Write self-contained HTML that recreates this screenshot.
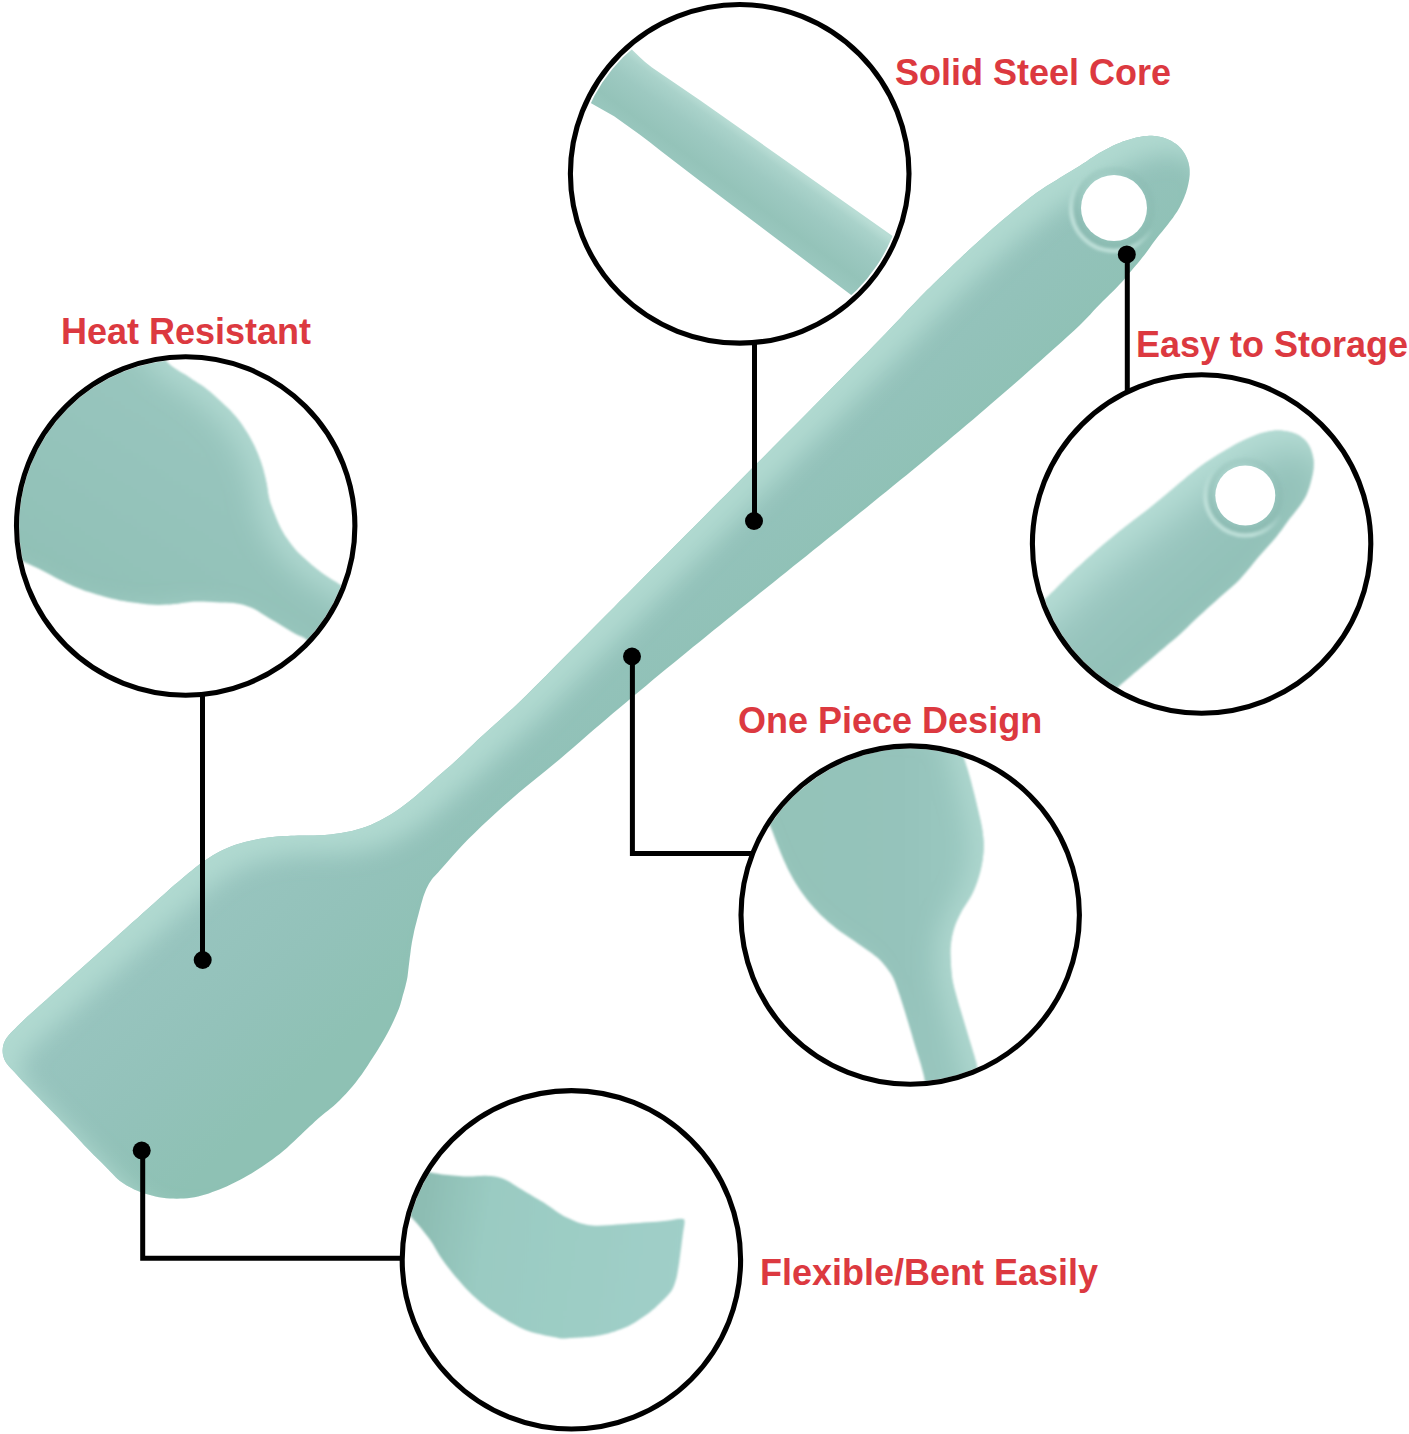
<!DOCTYPE html>
<html><head><meta charset="utf-8"><style>
html,body{margin:0;padding:0;background:#fff;}
body{width:1409px;height:1434px;position:relative;overflow:hidden;font-family:"Liberation Sans",sans-serif;}
svg{position:absolute;left:0;top:0;}
.t{position:absolute;font-weight:bold;font-size:36px;color:#dc3940;white-space:nowrap;line-height:1;}
</style></head><body>
<svg width="1409" height="1434" viewBox="0 0 1409 1434">
<defs>
<linearGradient id="gMain" gradientUnits="userSpaceOnUse" x1="667.6" y1="745.7" x2="512.1" y2="576.2">
<stop offset="0" stop-color="#8ec1b4"/><stop offset="0.43" stop-color="#93c2ba"/><stop offset="1" stop-color="#99c5c0"/>
</linearGradient>
<linearGradient id="gSteel" gradientUnits="userSpaceOnUse" x1="740" y1="128.4" x2="700.5" y2="182.7">
<stop offset="0" stop-color="#b9ddd5"/><stop offset="0.13" stop-color="#a9d2ca"/><stop offset="0.4" stop-color="#9dc9c1"/><stop offset="0.78" stop-color="#94c3b9"/><stop offset="1" stop-color="#99c7be"/>
</linearGradient>
<filter id="rim" x="-5%" y="-5%" width="110%" height="110%" color-interpolation-filters="sRGB">
<feGaussianBlur in="SourceAlpha" stdDeviation="12" result="b"/>
<feOffset in="b" dx="17.5" dy="17.5" result="o"/>
<feComposite in="SourceAlpha" in2="o" operator="out" result="edge"/>
<feFlood flood-color="#b0d9d0" flood-opacity="1"/>
<feComposite in2="edge" operator="in" result="light"/>
<feMerge><feMergeNode in="SourceGraphic"/><feMergeNode in="light"/></feMerge>
</filter>
<filter id="rimR" x="-10%" y="-10%" width="120%" height="120%" color-interpolation-filters="sRGB">
<feGaussianBlur in="SourceAlpha" stdDeviation="14" result="b"/>
<feOffset in="b" dx="-13" dy="9" result="o"/>
<feComposite in="SourceAlpha" in2="o" operator="out" result="edge"/>
<feFlood flood-color="#b2dad2" flood-opacity="0.9"/>
<feComposite in2="edge" operator="in" result="light"/>
<feMerge result="m"><feMergeNode in="SourceGraphic"/><feMergeNode in="light"/></feMerge>
<feGaussianBlur in="m" stdDeviation="1.1"/>
</filter>
<filter id="rimE" x="-10%" y="-10%" width="120%" height="120%" color-interpolation-filters="sRGB">
<feGaussianBlur in="SourceAlpha" stdDeviation="12" result="b"/>
<feOffset in="b" dx="-14" dy="2" result="o"/>
<feComposite in="SourceAlpha" in2="o" operator="out" result="edge"/>
<feFlood flood-color="#b0d8d0" flood-opacity="0.85"/>
<feComposite in2="edge" operator="in" result="light"/>
<feMerge result="m"><feMergeNode in="SourceGraphic"/><feMergeNode in="light"/></feMerge>
<feGaussianBlur in="m" stdDeviation="1.1"/>
</filter>
<filter id="rimS" x="-10%" y="-10%" width="120%" height="120%" color-interpolation-filters="sRGB">
<feGaussianBlur in="SourceAlpha" stdDeviation="18" result="b"/>
<feOffset in="b" dx="13" dy="15" result="o"/>
<feComposite in="SourceAlpha" in2="o" operator="out" result="edge"/>
<feFlood flood-color="#b6ddd5" flood-opacity="1"/>
<feComposite in2="edge" operator="in" result="light"/>
<feMerge result="m"><feMergeNode in="SourceGraphic"/><feMergeNode in="light"/></feMerge>
<feGaussianBlur in="m" stdDeviation="1.1"/>
</filter>
<filter id="soft2" x="-5%" y="-5%" width="110%" height="110%"><feGaussianBlur stdDeviation="1.1"/></filter>
<filter id="soft" x="-20%" y="-20%" width="140%" height="140%"><feGaussianBlur stdDeviation="1.6"/></filter>
<linearGradient id="gStore" gradientUnits="userSpaceOnUse" x1="1210" y1="640" x2="1120" y2="540">
<stop offset="0" stop-color="#8fbfb5"/><stop offset="0.5" stop-color="#95c3bb"/><stop offset="1" stop-color="#9ec9c3"/>
</linearGradient>
<linearGradient id="gHeat" gradientUnits="userSpaceOnUse" x1="120" y1="620" x2="260" y2="400">
<stop offset="0" stop-color="#91c1b7"/><stop offset="0.6" stop-color="#96c4bc"/><stop offset="1" stop-color="#9ac7bf"/>
</linearGradient>
<linearGradient id="gOne" gradientUnits="userSpaceOnUse" x1="780" y1="900" x2="990" y2="900">
<stop offset="0" stop-color="#94c3b9"/><stop offset="0.55" stop-color="#95c3bb"/><stop offset="1" stop-color="#9ccac2"/>
</linearGradient>
<linearGradient id="gFlex" gradientUnits="userSpaceOnUse" x1="420" y1="1230" x2="680" y2="1270">
<stop offset="0" stop-color="#8dbdb3"/><stop offset="0.25" stop-color="#9acbc2"/><stop offset="1" stop-color="#a0cfc8"/>
</linearGradient>
<linearGradient id="gRingL" gradientUnits="objectBoundingBox" x1="0.95" y1="0.05" x2="0.3" y2="1">
<stop offset="0" stop-color="#c4e4dd" stop-opacity="0"/><stop offset="0.5" stop-color="#c4e4dd" stop-opacity="0"/><stop offset="0.85" stop-color="#c4e4dd" stop-opacity="0.9"/><stop offset="1" stop-color="#c4e4dd" stop-opacity="0.9"/>
</linearGradient>
<linearGradient id="gRingD" gradientUnits="objectBoundingBox" x1="0.85" y1="0.1" x2="0.15" y2="0.95">
<stop offset="0" stop-color="#7fb0a6" stop-opacity="0.15"/><stop offset="0.5" stop-color="#7fb0a6" stop-opacity="0.25"/><stop offset="1" stop-color="#7fb0a6" stop-opacity="0.35"/>
</linearGradient>
<clipPath id="cHeat"><circle cx="185.7" cy="526" r="166.5"/></clipPath>
<clipPath id="cStore"><circle cx="1201.6" cy="544" r="166.5"/></clipPath>
<clipPath id="cOne"><circle cx="910.2" cy="915.1" r="166.5"/></clipPath>
<clipPath id="cFlex"><circle cx="571.4" cy="1259.8" r="166.5"/></clipPath>
<clipPath id="cSteel"><circle cx="739.7" cy="173.85" r="165"/></clipPath>
</defs>
<path d="M1154.4,135.9 L1152.0,135.7 L1149.5,135.7 L1147.1,135.9 L1144.6,136.1 L1142.1,136.5 L1139.5,136.9 L1136.3,137.6 L1133.0,138.4 L1129.7,139.4 L1126.3,140.4 L1122.9,141.6 L1119.6,142.9 L1116.2,144.3 L1112.9,145.8 L1109.6,147.5 L1106.3,149.2 L1103.0,151.0 L1099.7,152.8 L1096.4,154.8 L1093.1,156.9 L1089.8,159.1 L1086.5,161.4 L1083.2,163.6 L1079.9,165.7 L1076.6,167.8 L1073.3,169.8 L1070.0,171.8 L1066.6,173.8 L1063.3,175.8 L1060.0,177.8 L1056.7,179.9 L1053.3,181.9 L1050.0,183.9 L1046.6,186.0 L1043.3,188.2 L1040.0,190.4 L1036.6,192.8 L1033.3,195.3 L1029.9,197.8 L1026.6,200.4 L1023.3,203.1 L1020.0,205.7 L1016.6,208.4 L1013.3,211.1 L1010.0,213.9 L1006.6,216.7 L1003.3,219.5 L1000.0,222.3 L996.6,225.2 L993.3,228.1 L990.0,231.0 L986.6,234.0 L983.3,236.9 L980.0,239.9 L976.7,242.9 L973.3,246.0 L970.0,249.1 L966.6,252.2 L963.3,255.3 L960.0,258.4 L956.7,261.6 L953.3,264.7 L950.0,267.9 L946.7,271.2 L943.3,274.4 L940.0,277.6 L936.7,280.8 L933.6,283.8 L930.4,286.9 L927.1,290.1 L923.7,293.6 L920.0,297.3 L914.1,303.4 L907.7,310.1 L900.9,317.4 L893.9,324.8 L886.8,332.2 L880.0,339.3 L873.4,346.1 L866.7,352.9 L860.0,359.6 L853.3,366.3 L846.7,373.1 L840.0,379.8 L833.3,386.5 L826.7,393.3 L820.0,400.0 L813.3,406.7 L806.7,413.5 L800.0,420.2 L793.3,426.9 L786.7,433.6 L780.0,440.3 L773.3,447.0 L766.7,453.7 L760.0,460.4 L753.3,467.1 L746.7,473.8 L740.0,480.5 L733.3,487.2 L726.7,493.9 L720.0,500.6 L713.3,507.3 L706.7,514.0 L700.0,520.7 L693.3,527.4 L686.7,534.1 L680.0,540.8 L673.3,547.5 L666.7,554.2 L660.0,560.9 L653.3,567.6 L646.7,574.3 L640.0,581.0 L633.3,587.7 L626.7,594.4 L620.0,601.1 L613.3,607.9 L606.7,614.6 L600.0,621.3 L593.3,628.0 L586.7,634.7 L580.0,641.4 L573.4,648.1 L566.7,654.8 L560.0,661.5 L553.3,668.3 L546.5,675.2 L539.7,682.0 L532.9,688.8 L526.2,695.5 L519.5,702.0 L513.2,707.9 L506.9,713.6 L500.7,719.2 L494.5,724.7 L488.4,730.2 L482.6,735.5 L477.6,740.1 L472.8,744.7 L468.0,749.2 L463.4,753.7 L458.8,758.0 L454.2,762.2 L450.1,765.9 L445.9,769.6 L441.9,773.1 L437.8,776.6 L433.9,780.0 L430.0,783.4 L426.6,786.4 L423.3,789.4 L420.0,792.3 L416.7,795.2 L413.4,798.0 L410.0,800.8 L406.4,803.6 L402.8,806.3 L399.1,808.9 L395.4,811.5 L391.6,814.0 L387.7,816.3 L383.7,818.6 L379.6,820.7 L375.4,822.8 L371.2,824.7 L366.8,826.5 L362.3,828.1 L357.2,829.6 L352.0,830.9 L346.6,832.0 L341.2,833.0 L335.7,833.8 L330.3,834.5 L324.9,835.0 L319.4,835.2 L314.0,835.4 L308.6,835.4 L303.3,835.5 L298.4,835.6 L294.6,835.7 L291.1,835.8 L287.6,835.9 L284.2,836.1 L280.8,836.3 L277.1,836.6 L272.7,837.1 L268.1,837.6 L263.4,838.3 L258.6,839.0 L254.0,839.9 L249.4,840.9 L245.0,842.0 L240.7,843.2 L236.3,844.6 L232.1,846.0 L227.9,847.7 L223.9,849.4 L220.2,851.2 L216.5,853.2 L213.0,855.3 L209.5,857.5 L206.1,859.8 L202.6,862.2 L199.0,864.8 L195.4,867.5 L191.9,870.4 L188.3,873.3 L184.8,876.3 L181.3,879.2 L177.8,882.2 L174.3,885.1 L170.9,888.1 L167.4,891.2 L163.8,894.4 L160.0,897.8 L154.8,902.4 L149.2,907.4 L143.5,912.6 L137.6,917.9 L131.7,923.1 L126.0,928.3 L120.4,933.3 L114.9,938.3 L109.4,943.2 L103.8,948.2 L98.2,953.2 L92.4,958.4 L85.9,964.2 L79.2,970.2 L72.4,976.3 L65.6,982.4 L58.9,988.4 L52.3,994.3 L46.1,999.9 L39.8,1005.5 L33.5,1011.2 L27.5,1016.6 L22.1,1021.7 L17.4,1026.3 L14.8,1028.9 L12.4,1031.3 L10.2,1033.6 L8.3,1035.8 L6.6,1037.9 L5.2,1040.2 L4.4,1042.0 L3.7,1043.7 L3.2,1045.5 L2.9,1047.2 L2.7,1049.0 L2.6,1050.7 L2.7,1052.4 L2.9,1054.2 L3.3,1056.0 L3.8,1057.7 L4.4,1059.4 L5.2,1061.1 L6.3,1062.9 L7.5,1064.6 L8.9,1066.2 L10.5,1067.9 L12.2,1069.7 L13.9,1071.6 L16.6,1074.6 L19.7,1078.0 L22.9,1081.4 L26.3,1085.0 L29.7,1088.6 L33.0,1092.0 L36.2,1095.3 L39.4,1098.6 L42.7,1101.9 L45.9,1105.2 L49.1,1108.5 L52.3,1111.7 L55.3,1114.8 L58.3,1117.8 L61.2,1120.9 L64.2,1123.9 L67.1,1126.9 L70.0,1130.0 L72.9,1133.0 L75.7,1136.1 L78.5,1139.1 L81.3,1142.1 L84.2,1145.2 L87.2,1148.3 L90.6,1151.8 L94.2,1155.4 L97.9,1159.1 L101.5,1162.6 L104.9,1166.1 L108.1,1169.2 L110.2,1171.4 L112.2,1173.5 L114.1,1175.5 L116.0,1177.4 L117.9,1179.2 L120.0,1180.9 L122.2,1182.5 L124.4,1184.0 L126.7,1185.5 L129.1,1186.8 L131.6,1188.1 L134.2,1189.4 L137.4,1190.8 L140.9,1192.2 L144.5,1193.4 L148.2,1194.6 L151.9,1195.6 L155.5,1196.5 L159.0,1197.2 L162.6,1197.7 L166.1,1198.2 L169.7,1198.5 L173.2,1198.6 L176.8,1198.7 L180.4,1198.6 L183.9,1198.5 L187.5,1198.2 L191.0,1197.7 L194.6,1197.2 L198.1,1196.5 L201.7,1195.6 L205.3,1194.6 L208.8,1193.4 L212.4,1192.1 L215.9,1190.8 L219.4,1189.4 L223.0,1187.9 L226.6,1186.4 L230.1,1184.8 L233.7,1183.1 L237.2,1181.3 L240.7,1179.5 L244.3,1177.5 L247.8,1175.5 L251.4,1173.4 L254.9,1171.2 L258.4,1169.0 L261.9,1166.7 L265.5,1164.3 L269.1,1161.8 L272.7,1159.3 L276.2,1156.6 L279.7,1153.9 L283.2,1151.1 L286.9,1148.0 L290.5,1144.6 L294.1,1141.2 L297.7,1137.7 L301.2,1134.4 L304.5,1131.2 L307.2,1128.7 L309.8,1126.3 L312.4,1123.9 L314.9,1121.6 L317.4,1119.3 L320.0,1117.0 L322.7,1114.8 L325.4,1112.6 L328.1,1110.5 L330.8,1108.3 L333.6,1106.0 L336.3,1103.5 L339.5,1100.4 L342.8,1097.1 L346.0,1093.7 L349.3,1090.1 L352.4,1086.4 L355.5,1082.7 L358.6,1078.6 L361.7,1074.4 L364.7,1070.1 L367.6,1065.7 L370.4,1061.3 L373.2,1057.0 L375.8,1053.0 L378.3,1049.0 L380.7,1045.0 L383.1,1041.0 L385.4,1036.9 L387.6,1032.9 L389.7,1028.9 L391.8,1024.7 L393.8,1020.6 L395.6,1016.5 L397.3,1012.6 L398.8,1008.9 L399.7,1006.4 L400.5,1004.0 L401.1,1001.7 L401.8,999.4 L402.4,997.1 L403.0,994.8 L403.7,992.4 L404.4,990.0 L405.1,987.6 L405.7,985.1 L406.3,982.6 L406.9,980.0 L407.5,976.8 L407.9,973.5 L408.3,970.0 L408.7,966.6 L409.1,963.2 L409.5,960.0 L409.8,957.4 L410.2,954.8 L410.5,952.2 L410.8,949.8 L411.1,947.4 L411.5,945.0 L411.8,943.0 L412.2,941.1 L412.5,939.3 L412.9,937.4 L413.3,935.5 L413.7,933.4 L414.3,930.6 L415.0,927.6 L415.8,924.5 L416.6,921.4 L417.4,918.2 L418.3,915.0 L419.2,911.4 L420.2,907.7 L421.2,903.9 L422.3,900.2 L423.3,896.7 L424.5,893.5 L425.4,891.2 L426.3,889.0 L427.3,887.0 L428.3,885.0 L429.4,883.1 L430.6,881.2 L431.9,879.3 L433.3,877.6 L434.8,876.0 L436.4,874.3 L438.1,872.4 L440.0,870.3 L443.8,866.0 L448.0,861.2 L452.8,855.8 L457.8,850.3 L463.1,844.6 L468.4,839.1 L474.9,832.7 L481.7,826.1 L488.8,819.4 L496.1,812.7 L503.5,806.0 L511.0,799.4 L519.0,792.6 L527.2,785.7 L535.5,778.9 L543.9,772.2 L552.1,765.5 L560.0,758.9 L566.9,753.0 L573.7,747.2 L580.3,741.5 L586.8,735.8 L593.4,730.1 L600.0,724.4 L606.7,718.7 L613.3,713.1 L620.0,707.5 L626.6,701.9 L633.3,696.3 L640.0,690.7 L646.7,685.2 L653.3,679.6 L660.0,674.1 L666.7,668.6 L673.3,663.2 L680.0,657.7 L686.7,652.3 L693.3,646.8 L700.0,641.4 L706.7,636.0 L713.3,630.6 L720.0,625.2 L726.7,619.8 L733.3,614.5 L740.0,609.1 L746.7,603.8 L753.3,598.4 L760.0,593.1 L766.7,587.8 L773.3,582.4 L780.0,577.0 L786.7,571.7 L793.3,566.3 L800.0,561.0 L806.7,555.7 L813.3,550.3 L820.0,545.0 L826.7,539.6 L833.3,534.3 L840.0,528.9 L846.7,523.5 L853.3,518.2 L860.0,512.8 L866.7,507.4 L873.3,502.0 L880.0,496.6 L886.7,491.2 L893.3,485.7 L900.0,480.3 L906.7,474.9 L913.3,469.4 L920.0,463.9 L926.7,458.4 L933.4,452.8 L940.0,447.3 L946.7,441.7 L953.3,436.1 L960.0,430.5 L966.7,424.8 L973.4,419.2 L980.0,413.5 L986.7,407.8 L993.3,402.0 L1000.0,396.3 L1006.7,390.5 L1013.4,384.7 L1020.0,378.9 L1026.7,373.0 L1033.4,367.1 L1040.0,361.2 L1046.9,355.1 L1053.9,348.8 L1061.0,342.5 L1067.8,336.3 L1074.2,330.4 L1080.0,324.9 L1083.7,321.2 L1087.1,317.7 L1090.3,314.4 L1093.3,311.1 L1096.4,307.8 L1099.6,304.5 L1103.0,301.1 L1106.4,297.7 L1109.9,294.3 L1113.3,291.0 L1116.5,287.7 L1119.5,284.6 L1121.7,282.2 L1123.7,279.9 L1125.7,277.6 L1127.5,275.3 L1129.4,273.0 L1131.4,270.7 L1133.6,268.1 L1135.8,265.5 L1138.0,262.9 L1140.2,260.3 L1142.3,257.6 L1144.4,255.0 L1146.3,252.5 L1148.1,250.0 L1149.9,247.5 L1151.6,245.0 L1153.4,242.5 L1155.3,240.0 L1157.4,237.3 L1159.6,234.6 L1161.8,231.9 L1164.0,229.2 L1166.2,226.6 L1168.2,224.0 L1169.8,221.8 L1171.4,219.8 L1173.0,217.7 L1174.4,215.6 L1175.8,213.6 L1177.2,211.4 L1178.5,209.2 L1179.8,206.9 L1181.0,204.5 L1182.1,202.2 L1183.2,199.8 L1184.2,197.5 L1185.0,195.3 L1185.8,193.2 L1186.5,191.0 L1187.1,188.9 L1187.7,186.7 L1188.2,184.6 L1188.6,182.6 L1189.0,180.6 L1189.3,178.6 L1189.5,176.6 L1189.7,174.7 L1189.7,172.7 L1189.7,170.8 L1189.6,169.0 L1189.4,167.2 L1189.1,165.4 L1188.7,163.5 L1188.2,161.7 L1187.4,159.5 L1186.5,157.3 L1185.4,155.0 L1184.1,152.8 L1182.7,150.7 L1181.2,148.8 L1179.5,147.0 L1177.7,145.3 L1175.7,143.8 L1173.6,142.4 L1171.5,141.1 L1169.3,139.9 L1167.0,138.9 L1164.5,138.0 L1162.0,137.3 L1159.5,136.7 L1156.9,136.2Z" fill="url(#gMain)" filter="url(#rim)"/>
<g filter="url(#soft)"><circle cx="1114" cy="208" r="38" fill="none" stroke="url(#gRingD)" stroke-width="7"/>
<circle cx="1114" cy="208" r="43" fill="none" stroke="url(#gRingL)" stroke-width="4"/></g>
<circle cx="1114" cy="208" r="33" fill="#fff"/>
<g clip-path="url(#cSteel)">
<path d="M612,30 L631.1,48.7 L639.6,57.1 Q645,62.5 652,67.5 L700,100.2 L920,255.4 L920,346.9 L700,181.1 L660.9,151 Q650,142 639.6,134.4 L614.1,116.2 L591.1,103.3 L570,92Z" fill="url(#gSteel)"/>
</g>
<g clip-path="url(#cHeat)"><path d="M-20.0,340.0 L6.2,327.7 L44.7,323.9 L87.1,326.1 L125.0,332.3 L150.0,340.0 L155.4,343.8 L159.1,348.5 L161.9,353.5 L164.3,358.2 L167.0,362.0 L168.9,363.8 L170.7,365.4 L172.4,366.7 L174.2,368.0 L176.0,369.2 L177.7,370.3 L179.5,371.4 L181.2,372.4 L183.0,373.4 L184.8,374.5 L186.9,375.8 L189.0,377.2 L191.2,378.7 L193.3,380.2 L195.5,381.6 L197.6,383.0 L199.7,384.3 L201.8,385.6 L203.9,387.1 L206.1,388.7 L209.0,391.0 L212.0,393.6 L215.0,396.3 L218.0,399.0 L221.0,401.8 L223.9,404.5 L226.9,407.3 L229.8,410.1 L232.5,413.0 L235.2,416.0 L237.7,419.0 L240.0,422.1 L242.3,425.3 L244.4,428.5 L246.5,431.7 L248.4,434.8 L250.1,437.8 L251.8,440.9 L253.4,444.1 L255.0,447.3 L256.6,450.9 L258.1,454.5 L259.5,458.3 L260.9,462.0 L262.1,465.7 L263.1,469.1 L264.0,472.5 L264.9,475.9 L265.7,479.3 L266.4,482.7 L267.1,486.2 L267.6,489.7 L268.1,493.2 L268.7,496.7 L269.5,500.0 L270.3,502.9 L271.3,505.7 L272.3,508.5 L273.4,511.2 L274.5,514.0 L275.7,517.0 L276.9,520.1 L278.2,523.1 L279.6,526.1 L281.0,529.0 L282.5,531.6 L284.0,534.2 L285.6,536.7 L287.3,539.1 L289.0,541.5 L290.7,543.8 L292.4,546.0 L294.2,548.2 L296.1,550.4 L298.0,552.5 L300.1,554.6 L302.2,556.6 L304.4,558.6 L306.7,560.6 L309.0,562.6 L311.7,564.9 L314.5,567.2 L317.3,569.5 L320.2,571.7 L323.2,573.9 L326.2,576.0 L329.2,577.9 L332.3,579.9 L335.5,581.8 L338.8,583.9 L342.8,586.3 L347.1,588.6 L351.4,591.1 L355.8,593.8 L360.0,597.0 L366.0,601.8 L372.8,607.3 L379.2,613.3 L383.7,619.3 L385.0,625.0 L380.0,633.4 L369.0,642.8 L355.0,651.6 L341.0,657.9 L330.0,660.0 L324.4,658.0 L319.3,653.6 L314.6,648.2 L310.3,643.0 L306.2,639.2 L303.8,637.7 L301.5,636.6 L299.3,635.7 L297.1,634.7 L294.8,633.6 L292.1,632.0 L289.2,630.3 L286.4,628.5 L283.5,626.8 L280.7,625.0 L277.9,623.3 L275.0,621.6 L272.2,619.9 L269.3,618.2 L266.5,616.5 L263.7,614.7 L260.9,612.9 L258.0,611.1 L255.2,609.4 L252.3,608.0 L249.6,606.9 L246.8,605.9 L244.0,605.0 L241.2,604.3 L238.1,603.7 L234.1,603.1 L230.0,602.8 L225.6,602.6 L221.2,602.5 L216.8,602.3 L212.3,602.1 L207.7,601.8 L203.1,601.6 L198.5,601.5 L194.0,601.6 L189.9,601.9 L185.8,602.5 L181.7,603.1 L177.7,603.7 L173.7,604.1 L169.8,604.4 L166.0,604.6 L162.2,604.8 L158.3,604.9 L154.5,604.8 L150.7,604.6 L146.9,604.3 L143.0,603.8 L139.2,603.3 L135.4,602.8 L131.6,602.3 L127.7,601.7 L123.9,601.1 L120.0,600.4 L116.2,599.6 L112.3,598.7 L108.5,597.8 L104.7,596.7 L100.8,595.6 L97.0,594.5 L93.2,593.3 L89.3,592.1 L85.5,590.9 L81.7,589.5 L77.9,588.1 L74.0,586.5 L70.2,584.8 L66.3,583.0 L62.5,581.1 L58.7,579.2 L54.8,577.2 L50.9,575.1 L47.1,573.0 L43.3,570.9 L39.5,569.0 L36.2,567.4 L32.9,565.9 L29.7,564.4 L26.4,562.9 L22.9,561.3 L18.5,559.4 L13.7,557.6 L8.9,555.6 L4.3,553.1 L0.0,550.0 L-4.7,545.7 L-9.2,540.8 L-13.3,535.1 L-16.9,528.3 L-20.0,520.0 L-26.8,491.1 L-33.0,450.5 L-35.7,406.3 L-32.3,366.8Z" fill="url(#gHeat)" filter="url(#rimR)"/></g>
<g clip-path="url(#cStore)"><path d="M1000.0,650.0 L1004.8,641.9 L1010.9,633.9 L1017.6,626.2 L1024.1,619.2 L1030.0,613.0 L1033.6,609.4 L1037.0,606.2 L1040.3,603.3 L1043.4,600.5 L1046.4,597.8 L1048.7,595.7 L1050.8,593.6 L1052.8,591.7 L1054.9,589.7 L1057.0,587.6 L1059.5,585.1 L1062.0,582.6 L1064.6,579.9 L1067.2,577.3 L1069.8,574.8 L1072.3,572.4 L1074.8,570.1 L1077.3,567.7 L1079.9,565.4 L1082.6,562.9 L1085.8,560.0 L1089.2,557.0 L1092.7,553.9 L1096.3,550.8 L1100.0,547.6 L1104.7,543.6 L1109.6,539.5 L1114.7,535.3 L1119.9,531.1 L1125.0,527.0 L1130.2,523.0 L1135.4,519.0 L1140.7,515.0 L1146.0,511.0 L1151.3,506.8 L1157.1,502.1 L1162.9,497.2 L1168.8,492.2 L1174.5,487.4 L1180.0,482.8 L1184.4,479.2 L1188.7,475.6 L1192.9,472.3 L1197.0,469.0 L1201.3,465.8 L1205.5,462.8 L1209.7,460.0 L1214.0,457.2 L1218.3,454.5 L1222.6,451.9 L1226.8,449.4 L1231.1,446.9 L1235.3,444.5 L1239.6,442.3 L1243.9,440.2 L1248.2,438.3 L1252.5,436.4 L1256.8,434.8 L1261.1,433.3 L1265.2,432.2 L1268.5,431.5 L1271.7,431.0 L1274.8,430.6 L1278.0,430.5 L1281.1,430.6 L1284.4,430.9 L1287.7,431.4 L1291.0,432.2 L1294.2,433.2 L1297.1,434.4 L1299.6,435.8 L1301.9,437.4 L1304.1,439.2 L1306.1,441.2 L1307.8,443.4 L1309.3,445.9 L1310.6,448.7 L1311.6,451.6 L1312.5,454.5 L1313.1,457.3 L1313.5,459.5 L1313.7,461.6 L1313.8,463.6 L1313.7,465.7 L1313.6,467.9 L1313.3,470.5 L1312.9,473.3 L1312.3,476.1 L1311.6,478.9 L1310.9,481.7 L1310.1,484.7 L1309.2,487.7 L1308.1,490.8 L1307.0,493.8 L1305.6,496.7 L1303.9,499.7 L1301.9,502.7 L1299.9,505.7 L1297.8,508.5 L1295.8,511.1 L1294.3,513.0 L1292.9,514.8 L1291.5,516.4 L1290.1,518.1 L1288.7,519.9 L1287.3,521.9 L1285.8,523.9 L1284.4,525.9 L1283.0,527.9 L1281.6,529.9 L1280.2,531.8 L1278.8,533.6 L1277.4,535.4 L1276.0,537.3 L1274.5,539.1 L1272.8,541.1 L1271.0,543.1 L1269.2,545.0 L1267.4,547.0 L1265.6,549.0 L1263.9,550.9 L1262.2,552.8 L1260.5,554.7 L1258.7,556.8 L1256.8,559.0 L1253.7,562.7 L1250.4,566.9 L1246.8,571.3 L1243.1,575.6 L1239.4,579.7 L1235.6,583.5 L1231.6,587.1 L1227.6,590.6 L1223.5,594.1 L1219.5,597.6 L1215.5,601.2 L1211.5,604.7 L1207.5,608.3 L1203.6,611.9 L1199.6,615.5 L1195.6,619.3 L1191.6,623.1 L1187.7,626.9 L1183.7,630.7 L1179.7,634.4 L1175.8,637.9 L1171.8,641.3 L1167.8,644.6 L1163.9,647.9 L1159.9,651.3 L1155.9,654.7 L1151.8,658.2 L1147.7,661.7 L1143.7,665.0 L1140.0,668.2 L1137.1,670.7 L1134.2,673.1 L1131.5,675.4 L1128.9,677.7 L1126.5,679.7 L1125.0,681.0 L1123.6,682.2 L1122.3,683.3 L1120.9,684.5 L1119.3,686.0 L1116.2,689.2 L1112.9,693.2 L1109.2,697.4 L1104.9,701.5 L1100.0,705.0 L1091.8,709.5 L1082.1,713.8 L1071.5,717.4 L1060.6,719.7 L1050.0,720.0 L1036.9,717.6 L1022.3,712.7 L1008.3,706.1 L996.8,698.3 L990.0,690.0 L988.5,682.8 L989.6,674.8 L992.4,666.3 L996.1,657.9Z" fill="url(#gStore)" filter="url(#rimS)"/>
<g filter="url(#soft)"><circle cx="1245.3" cy="495.5" r="35" fill="none" stroke="url(#gRingD)" stroke-width="6"/>
<circle cx="1245.3" cy="495.5" r="40" fill="none" stroke="url(#gRingL)" stroke-width="4"/></g>
<circle cx="1245.3" cy="495.5" r="30" fill="#fff"/></g>
<g clip-path="url(#cOne)"><path d="M730.0,740.0 L729.4,750.4 L735.1,764.1 L744.0,779.1 L753.3,793.4 L760.0,805.0 L762.5,810.1 L764.7,814.6 L766.7,818.8 L768.6,822.7 L770.4,826.7 L771.8,830.1 L773.1,833.3 L774.3,836.5 L775.5,839.8 L776.9,843.3 L778.9,848.2 L781.0,853.4 L783.2,858.8 L785.6,864.1 L788.0,869.2 L790.4,873.8 L792.8,878.3 L795.4,882.7 L798.1,887.1 L800.9,891.3 L804.0,895.5 L807.2,899.7 L810.5,903.8 L814.0,907.8 L817.5,911.6 L821.0,915.2 L824.7,918.6 L828.4,921.9 L832.2,925.1 L836.0,928.2 L839.6,931.0 L843.3,933.6 L847.0,936.1 L850.7,938.6 L854.4,941.1 L858.2,943.8 L862.2,946.5 L866.1,949.2 L869.8,951.8 L872.9,954.1 L874.6,955.4 L876.0,956.5 L877.4,957.6 L878.7,958.8 L880.0,960.0 L881.4,961.5 L882.8,963.0 L884.2,964.7 L885.5,966.3 L886.8,968.0 L888.1,969.7 L889.3,971.4 L890.5,973.1 L891.7,975.0 L892.8,976.9 L893.9,979.3 L894.9,981.7 L895.9,984.3 L896.8,987.0 L897.8,989.8 L899.0,993.2 L900.2,996.7 L901.3,1000.3 L902.5,1004.0 L903.7,1007.7 L904.9,1011.6 L906.1,1015.6 L907.3,1019.6 L908.5,1023.6 L909.7,1027.6 L910.9,1031.6 L912.1,1035.5 L913.2,1039.5 L914.4,1043.4 L915.6,1047.4 L916.8,1051.5 L918.1,1055.6 L919.4,1059.7 L920.6,1063.6 L921.6,1067.3 L922.3,1069.8 L922.9,1072.1 L923.5,1074.3 L924.0,1076.6 L924.6,1079.2 L924.9,1083.2 L924.9,1087.9 L925.0,1092.6 L925.9,1096.8 L928.0,1100.0 L935.7,1103.3 L947.6,1105.1 L960.9,1105.3 L972.6,1103.6 L980.0,1100.0 L982.0,1094.6 L981.7,1087.0 L980.1,1078.6 L978.1,1070.9 L976.8,1065.3 L976.5,1063.9 L976.3,1062.7 L976.0,1061.8 L975.7,1060.7 L975.3,1059.4 L974.4,1056.2 L973.2,1052.3 L971.9,1048.0 L970.6,1043.7 L969.3,1039.5 L968.1,1035.5 L966.9,1031.5 L965.7,1027.6 L964.5,1023.6 L963.3,1019.6 L962.1,1015.6 L960.9,1011.6 L959.7,1007.7 L958.5,1003.7 L957.4,999.7 L956.3,995.7 L955.2,991.7 L954.1,987.8 L953.2,983.8 L952.4,979.9 L951.9,976.3 L951.5,972.6 L951.2,969.0 L951.0,965.5 L950.8,962.0 L950.6,958.9 L950.5,955.9 L950.4,952.9 L950.4,949.8 L950.6,946.7 L951.0,943.1 L951.5,939.3 L952.2,935.6 L953.1,931.8 L954.1,928.2 L955.3,924.8 L956.6,921.5 L958.1,918.2 L959.7,914.9 L961.4,911.6 L963.5,908.0 L965.8,904.4 L968.2,900.7 L970.5,897.0 L972.5,893.2 L974.3,889.3 L975.9,885.3 L977.4,881.2 L978.7,877.1 L979.9,872.9 L981.0,868.5 L981.9,864.0 L982.7,859.5 L983.2,855.0 L983.6,850.7 L983.7,846.9 L983.7,843.3 L983.5,839.7 L983.1,836.1 L982.7,832.3 L982.0,828.0 L981.2,823.7 L980.2,819.3 L979.1,814.8 L978.0,810.1 L976.7,804.4 L975.3,798.4 L973.8,792.4 L972.2,786.4 L970.7,780.6 L969.3,775.6 L967.9,770.7 L966.4,766.0 L964.9,761.3 L963.3,756.6 L962.1,752.0 L961.3,747.3 L960.3,742.7 L958.4,738.5 L955.0,735.0 L941.7,730.2 L921.9,728.3 L898.2,728.3 L873.3,729.2 L850.0,730.0 L823.6,729.6 L794.0,728.8 L765.5,729.2 L742.6,732.4Z" fill="url(#gOne)" filter="url(#rimE)"/></g>
<g clip-path="url(#cFlex)"><path d="M390.0,1165.0 L393.8,1164.1 L398.9,1164.9 L404.5,1166.7 L410.1,1168.7 L415.0,1170.0 L418.1,1170.5 L421.0,1171.0 L423.8,1171.4 L426.6,1171.9 L429.3,1172.3 L431.8,1172.7 L434.3,1173.2 L436.8,1173.6 L439.3,1174.0 L441.8,1174.4 L444.5,1174.7 L447.3,1175.1 L450.2,1175.3 L453.0,1175.6 L455.8,1175.8 L458.6,1176.0 L461.4,1176.2 L464.1,1176.4 L466.9,1176.5 L469.7,1176.5 L472.5,1176.4 L475.4,1176.2 L478.2,1176.0 L481.0,1175.9 L483.7,1175.8 L486.0,1175.8 L488.3,1175.9 L490.5,1176.0 L492.7,1176.2 L494.9,1176.5 L497.1,1177.0 L499.4,1177.5 L501.6,1178.2 L503.8,1179.1 L506.0,1180.0 L508.5,1181.3 L511.0,1182.8 L513.5,1184.4 L516.0,1186.1 L518.6,1187.7 L521.3,1189.3 L524.1,1191.0 L526.9,1192.7 L529.7,1194.3 L532.5,1196.0 L535.3,1197.7 L538.1,1199.3 L540.9,1200.9 L543.7,1202.6 L546.5,1204.4 L549.5,1206.4 L552.4,1208.6 L555.4,1210.7 L558.4,1212.8 L561.2,1214.6 L563.5,1215.9 L565.7,1217.1 L567.9,1218.1 L570.1,1219.1 L572.3,1220.1 L574.5,1221.0 L576.7,1221.9 L579.0,1222.7 L581.2,1223.4 L583.5,1224.0 L585.6,1224.5 L587.7,1224.9 L589.9,1225.3 L592.1,1225.5 L594.6,1225.7 L598.6,1225.8 L603.0,1225.6 L607.7,1225.3 L612.4,1224.9 L617.0,1224.6 L621.5,1224.3 L625.9,1224.0 L630.4,1223.6 L634.8,1223.2 L639.3,1222.9 L643.8,1222.6 L648.2,1222.3 L652.7,1222.0 L657.1,1221.7 L661.6,1221.3 L666.6,1220.7 L672.0,1219.9 L677.2,1219.1 L681.4,1218.8 L683.9,1219.2 L684.2,1219.5 L684.4,1219.9 L684.5,1220.3 L684.5,1220.7 L684.5,1221.3 L684.5,1223.2 L684.2,1225.7 L683.7,1228.6 L683.2,1231.7 L682.8,1234.6 L682.4,1237.8 L681.9,1241.2 L681.5,1244.6 L681.1,1248.0 L680.6,1251.4 L680.2,1254.8 L679.7,1258.2 L679.3,1261.7 L678.8,1265.0 L678.3,1268.1 L677.9,1270.5 L677.5,1272.8 L677.1,1275.0 L676.7,1277.1 L676.1,1279.3 L675.4,1281.6 L674.7,1283.8 L673.9,1286.1 L672.9,1288.3 L671.7,1290.4 L670.0,1292.7 L668.1,1295.0 L666.0,1297.3 L663.8,1299.5 L661.6,1301.6 L659.4,1303.7 L657.2,1305.8 L655.0,1307.9 L652.7,1309.8 L650.4,1311.7 L648.2,1313.4 L646.0,1315.0 L643.8,1316.5 L641.5,1318.0 L639.3,1319.5 L637.1,1320.9 L634.9,1322.4 L632.6,1323.7 L630.4,1325.0 L628.1,1326.2 L625.9,1327.2 L623.7,1328.1 L621.5,1329.0 L619.2,1329.8 L617.0,1330.6 L614.8,1331.4 L612.5,1332.1 L610.3,1332.8 L608.1,1333.4 L605.8,1334.0 L603.6,1334.5 L601.3,1335.0 L599.1,1335.5 L596.8,1335.8 L594.6,1336.2 L592.4,1336.5 L590.2,1336.7 L587.9,1336.9 L585.7,1337.1 L583.5,1337.3 L581.3,1337.5 L579.0,1337.6 L576.8,1337.7 L574.5,1337.8 L572.3,1337.9 L570.0,1338.0 L567.8,1338.2 L565.5,1338.4 L563.3,1338.5 L561.2,1338.4 L559.6,1338.2 L558.1,1338.0 L556.6,1337.6 L555.1,1337.3 L553.4,1336.9 L550.9,1336.4 L548.1,1335.9 L545.2,1335.4 L542.3,1334.8 L539.5,1334.1 L536.7,1333.4 L533.9,1332.7 L531.1,1331.9 L528.3,1331.0 L525.5,1330.0 L522.7,1328.8 L519.9,1327.5 L517.1,1326.0 L514.4,1324.5 L511.6,1323.0 L508.8,1321.4 L506.0,1319.8 L503.2,1318.1 L500.4,1316.4 L497.6,1314.6 L494.8,1312.8 L492.0,1310.9 L489.2,1308.9 L486.4,1306.9 L483.7,1304.8 L480.8,1302.5 L478.0,1300.1 L475.2,1297.6 L472.4,1295.0 L469.7,1292.3 L466.9,1289.4 L464.1,1286.4 L461.3,1283.3 L458.5,1280.1 L455.8,1276.9 L452.9,1273.4 L450.0,1269.8 L447.2,1266.2 L444.4,1262.5 L441.8,1258.8 L439.4,1255.2 L437.2,1251.4 L435.0,1247.7 L432.9,1244.1 L430.7,1240.7 L428.8,1238.0 L426.8,1235.4 L424.8,1232.9 L422.9,1230.5 L420.9,1228.1 L419.0,1225.8 L417.1,1223.6 L415.2,1221.4 L413.2,1219.2 L411.2,1217.0 L409.1,1214.6 L406.9,1212.3 L404.7,1209.9 L402.4,1207.5 L400.0,1205.0 L396.9,1202.2 L393.3,1199.5 L389.8,1196.6 L386.8,1193.5 L385.0,1190.0 L384.2,1185.1 L384.4,1179.2 L385.5,1173.3 L387.4,1168.2Z" fill="url(#gFlex)" filter="url(#soft2)"/></g>
<g fill="none" stroke="#000" stroke-width="5.1">
<circle cx="739.7" cy="173.85" r="169.3"/>
<circle cx="185.7" cy="526" r="169.2"/>
<circle cx="1201.6" cy="544" r="169.2"/>
<circle cx="910.2" cy="915.1" r="169.2"/>
<circle cx="571.4" cy="1259.8" r="169.2"/>
</g>
<g fill="none" stroke="#000" stroke-width="5">
<path d="M754.5,342 V521"/>
<path d="M202.5,694 V960"/>
<path d="M1127.3,254 V391"/>
<path d="M632.4,656.5 V853.6 H752"/>
<path d="M142.7,1150.5 V1258.2 H403"/>
</g>
<g fill="#000">
<circle cx="754" cy="521" r="9"/>
<circle cx="202.7" cy="960" r="9"/>
<circle cx="1126.8" cy="254.4" r="9"/>
<circle cx="632" cy="656.5" r="9"/>
<circle cx="141.7" cy="1150.5" r="9"/>
</g>
</svg>
<div class="t" style="left:895px;top:55px">Solid Steel Core</div>
<div class="t" style="left:61px;top:314px">Heat Resistant</div>
<div class="t" style="left:1136px;top:326.5px">Easy to Storage</div>
<div class="t" style="left:738px;top:703px">One Piece Design</div>
<div class="t" style="left:760px;top:1255px">Flexible/Bent Easily</div>
</body></html>
